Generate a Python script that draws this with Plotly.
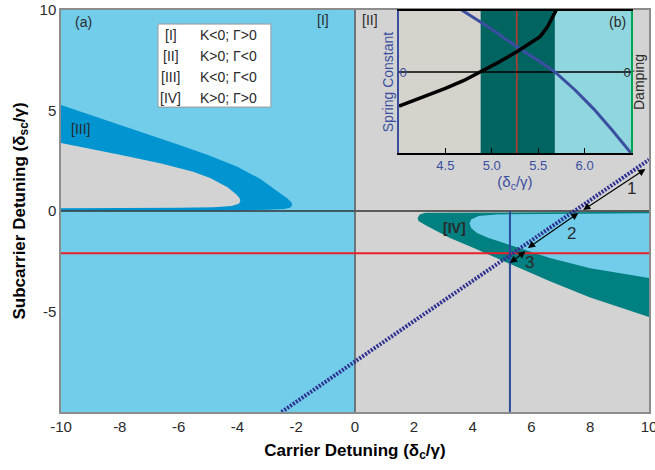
import plotly.graph_objects as go

# ---------------- data ----------------
X_RANGE = [-10, 10]
Y_RANGE = [-10, 10]
x_ticks = [-10, -8, -6, -4, -2, 0, 2, 4, 6, 8, 10]
x_tick_text = ["-10", "-8", "-6", "-4", "-2", "0", "2", "4", "6", "8", "10"]
y_ticks = [10, 5, 0, -5]
y_tick_text = ["10", "5", "0", "-5"]

# region III (K<0, G<0) outer boundary: upper branch then lower branch
III_up_x = [-10, -9, -8, -7, -6.63, -6, -5, -4, -3.23, -2.65, -2.3, -2.16, -2.13]
III_up_y = [5.27, 4.78, 4.3, 3.82, 3.63, 3.3, 2.78, 2.2, 1.6, 1.0, 0.62, 0.42, 0.3]
III_lo_x = [-2.13, -2.2, -2.4, -3.0, -5.0, -10]
III_lo_y = [0.3, 0.17, 0.1, 0.06, 0.03, 0.02]
# grey pocket inside region III
g_up_x = [-10, -9, -8, -6.63, -5.5, -4.93, -4.35, -4.05, -3.93, -3.9]
g_up_y = [3.38, 3.1, 2.8, 2.38, 1.95, 1.64, 1.2, 0.85, 0.65, 0.5]
g_lo_x = [-3.9, -3.95, -4.2, -4.8, -6.0, -10]
g_lo_y = [0.5, 0.36, 0.25, 0.19, 0.16, 0.14]

# region IV (K>0, G>0) outer boundary
IV_lo_x = [2.13, 2.16, 2.45, 3.23, 4.0, 5.27, 6.63, 8.0, 9.0, 10]
IV_lo_y = [-0.35, -0.5, -0.75, -1.34, -1.82, -2.62, -3.5, -4.3, -4.8, -5.27]
IV_up_x = [2.13, 2.2, 2.4, 3.0, 5.0, 10]
IV_up_y = [-0.35, -0.18, -0.09, -0.06, -0.05, -0.04]
# light blue pocket inside region IV
b_lo_x = [3.9, 3.95, 4.15, 4.5, 5.27, 6.63, 8.0, 9.0, 10]
b_lo_y = [-0.62, -0.85, -1.1, -1.32, -1.69, -2.34, -2.85, -3.1, -3.33]
b_up_x = [3.9, 3.95, 4.2, 4.8, 6.0, 10]
b_up_y = [-0.62, -0.42, -0.25, -0.17, -0.13, -0.11]

red_line_y = -2.1
blue_line_x = 5.27
blue_line_y = [-10, 0]
diag_x = [-2.5, 10]
diag_y = [-10, 2.55]

arrow_x0 = [9.93, 7.65, 5.85]
arrow_y0 = [2.14, -0.05, -1.94]
arrow_x1 = [7.76, 5.88, 5.27]
arrow_y1 = [0.05, -1.84, -2.59]
arrow_labels = ["1", "2", "3"]
arrow_label_x = [9.39, 7.37, 5.95]
arrow_label_y = [1.14, -1.11, -2.54]

region_labels = ["[I]", "[II]", "[III]", "<b>[IV]</b>"]
region_label_x = [-1.09, 0.5, -9.35, 3.4]
region_label_y = [9.5, 9.5, 4.1, -0.85]

legend_roman = ["[I]", "[II]", "[III]", "[IV]"]
legend_cond = ["K&lt;0; Γ&gt;0", "K&gt;0; Γ&lt;0", "K&lt;0; Γ&lt;0", "K&gt;0; Γ&gt;0"]
legend_row_y = [8.76, 7.71, 6.67, 5.62]

# inset (b)
inset_x_range = [4.0, 6.5]
inset_y_range = [-1.33, 1.0]
inset_ticks = [4.5, 5.0, 5.5, 6.0]
inset_tick_text = ["4.5", "5.0", "5.5", "6.0"]
inset_edges = [4.0, 4.88, 5.68, 6.5]
inset_colors = ["rgb(214,210,204)", "rgb(0,100,96)", "rgb(144,214,222)"]
inset_red_x = 5.27
spring_x = [4.6, 4.69, 5.0, 5.3, 5.5, 5.68, 5.9, 6.1, 6.3, 6.5]
spring_y = [1.09, 1.0, 0.7, 0.38, 0.19, 0.0, -0.3, -0.61, -0.96, -1.33]
damp_x = [4.0, 4.26, 4.5, 4.7, 4.88, 5.05, 5.27, 5.45, 5.52, 5.6, 5.66, 5.7, 5.73]
damp_y = [-0.56, -0.41, -0.27, -0.14, 0.0, 0.14, 0.33, 0.5, 0.58, 0.74, 0.92, 1.02, 1.12]

# ---------------- colours ----------------
LIGHT_BLUE = "rgb(114,205,234)"
DARK_BLUE = "rgb(0,148,208)"
GREY = "rgb(211,211,211)"
TEAL = "rgb(0,128,128)"
INK = "#2a2a2a"
INSET_BLUE = "#3A4FA0"
FONT = "Liberation Sans, Arial, sans-serif"
TITLE_FONT = "Liberation Sans Narrow, Liberation Sans, Arial"

fig = go.Figure()

def poly(xs, ys, color, xa="x", ya="y"):
    fig.add_trace(go.Scatter(x=xs, y=ys, fill="toself", fillcolor=color, mode="lines",
                             line=dict(width=0, color=color), xaxis=xa, yaxis=ya,
                             hoverinfo="skip", showlegend=False))

# left half light blue
poly([X_RANGE[0], 0, 0, X_RANGE[0]], [Y_RANGE[0], Y_RANGE[0], Y_RANGE[1], Y_RANGE[1]], LIGHT_BLUE)
# region III band and grey pocket
poly(III_up_x + III_lo_x, III_up_y + III_lo_y, DARK_BLUE)
poly(g_up_x + g_lo_x, g_up_y + g_lo_y, GREY)
# region IV band and light-blue pocket
poly(IV_lo_x + IV_up_x[::-1], IV_lo_y + IV_up_y[::-1], TEAL)
poly(b_lo_x + b_up_x[::-1], b_lo_y + b_up_y[::-1], LIGHT_BLUE)

def line(xs, ys, color, width, dash="solid"):
    fig.add_trace(go.Scatter(x=xs, y=ys, mode="lines", line=dict(color=color, width=width, dash=dash),
                             hoverinfo="skip", showlegend=False))

line(X_RANGE, [0, 0], "#333333", 1.5)
line([0, 0], Y_RANGE, "#5a5a5a", 1.5)
line(X_RANGE, [red_line_y, red_line_y], "#E8202A", 2)
line([blue_line_x, blue_line_x], blue_line_y, "#2B4C9B", 2)
line(diag_x, diag_y, "#2E3192", 4, dash="2px,1.5px")

# ---------------- inset ----------------
for i, c in enumerate(inset_colors):
    poly([inset_edges[i], inset_edges[i + 1], inset_edges[i + 1], inset_edges[i]],
         [inset_y_range[0], inset_y_range[0], inset_y_range[1], inset_y_range[1]], c, "x2", "y2")
fig.add_trace(go.Scatter(x=[inset_red_x, inset_red_x], y=inset_y_range, mode="lines",
                         line=dict(color="#C0392B", width=1.5), xaxis="x2", yaxis="y2",
                         hoverinfo="skip", showlegend=False))
fig.add_trace(go.Scatter(x=inset_x_range, y=[0, 0], mode="lines",
                         line=dict(color="black", width=1.5), xaxis="x2", yaxis="y2",
                         hoverinfo="skip", showlegend=False))
fig.add_trace(go.Scatter(x=spring_x, y=spring_y, mode="lines",
                         line=dict(color=INSET_BLUE, width=3), xaxis="x2", yaxis="y2",
                         hoverinfo="skip", showlegend=False))
fig.add_trace(go.Scatter(x=damp_x, y=damp_y, mode="lines",
                         line=dict(color="black", width=3.5), xaxis="x2", yaxis="y3",
                         hoverinfo="skip", showlegend=False))

# ---------------- annotations ----------------
ann = []
for x0, y0, x1, y1 in zip(arrow_x0, arrow_y0, arrow_x1, arrow_y1):
    ann.append(dict(x=x1, y=y1, ax=x0, ay=y0, xref="x", yref="y", axref="x", ayref="y",
                    showarrow=True, arrowhead=2, startarrowhead=2, arrowside="end+start",
                    arrowsize=1.2, startarrowsize=1.2, arrowwidth=1.2, arrowcolor="black", text=""))
for t, x, y in zip(arrow_labels, arrow_label_x, arrow_label_y):
    ann.append(dict(x=x, y=y, xref="x", yref="y", text=t, showarrow=False,
                    font=dict(size=17, color=INK, family=FONT)))
for t, x, y in zip(region_labels, region_label_x, region_label_y):
    ann.append(dict(x=x, y=y, xref="x", yref="y", text=t, showarrow=False,
                    font=dict(size=14, color=INK, family=FONT)))
ann.append(dict(x=-9.25, y=9.4, xref="x", yref="y", text="(a)", showarrow=False,
                font=dict(size=14, color=INK, family=FONT)))
for r, c, y in zip(legend_roman, legend_cond, legend_row_y):
    ann.append(dict(x=-6.26, y=y, xref="x", yref="y", text=r, showarrow=False,
                    font=dict(size=14, color=INK, family=FONT)))
    ann.append(dict(x=-5.34, y=y, xref="x", yref="y", text=c, showarrow=False, xanchor="left",
                    font=dict(size=14, color=INK, family=FONT)))
ann.append(dict(x=0.964, y=0.970, xref="paper", yref="paper", text="(b)", showarrow=False,
                xanchor="right", yanchor="middle", font=dict(size=14, color=INK, family=FONT)))

shapes = [dict(type="rect", xref="x", yref="y", x0=-6.70, x1=-2.86, y0=5.17, y1=9.30,
               fillcolor="white", line=dict(color="#9a9a9a", width=1), layer="above")]

fig.update_layout(
    template="none",
    width=655, height=470,
    margin=dict(l=61, r=6, t=10, b=58, autoexpand=False),
    paper_bgcolor="white", plot_bgcolor=GREY,
    font=dict(family=FONT, color=INK),
    showlegend=False,
    annotations=ann, shapes=shapes,
    xaxis=dict(range=X_RANGE, domain=[0, 1], tickvals=x_ticks, ticktext=x_tick_text, automargin=False,
               ticklabeloverflow="allow",
               showgrid=False, zeroline=False, showline=True, mirror=True, linecolor="#8c8c8c",
               linewidth=1.5, ticks="", tickfont=dict(size=15, color=INK),
               title=dict(text="<b>Carrier Detuning (δ<sub>c</sub>/γ)</b>", standoff=10,
                          font=dict(size=17, family=TITLE_FONT, color="black"))),
    yaxis=dict(range=Y_RANGE, domain=[0, 1], tickvals=y_ticks, ticktext=y_tick_text, automargin=False,
               ticklabeloverflow="allow",
               showgrid=False, zeroline=False, showline=True, mirror=True, linecolor="#8c8c8c",
               linewidth=1.5, ticks="", tickfont=dict(size=15, color=INK),
               title=dict(text="<b>Subcarrier Detuning (δ<sub>sc</sub>/γ)</b>", standoff=10,
                          font=dict(size=17, family=TITLE_FONT, color="black"))),
    xaxis2=dict(domain=[0.5748, 0.9694], anchor="y2", range=inset_x_range, automargin=False,
                tickvals=inset_ticks, ticktext=inset_tick_text, ticks="inside", ticklen=5,
                tickcolor="black", showline=True, linecolor="black", linewidth=1.5, mirror=True,
                showgrid=False, zeroline=False, tickfont=dict(size=13, color=INSET_BLUE),
                title=dict(text="(δ<sub>c</sub>/γ)", standoff=4, font=dict(size=15, color=INSET_BLUE))),
    yaxis2=dict(domain=[0.6443, 0.9975], anchor="x2", range=inset_y_range, automargin=False,
                tickvals=[0], ticktext=["0"], ticks="", ticklabelposition="inside",
                showline=True, linecolor=INSET_BLUE, linewidth=2, showgrid=False, zeroline=False,
                tickfont=dict(size=13, color=INSET_BLUE),
                title=dict(text="Spring Constant", standoff=2, font=dict(size=14, color=INSET_BLUE))),
    yaxis3=dict(overlaying="y2", anchor="x2", side="right", range=inset_y_range, automargin=False,
                tickvals=[0], ticktext=["0"], ticks="", ticklabelposition="inside",
                showline=True, linecolor="#00A651", linewidth=1.5, showgrid=False, zeroline=False,
                tickfont=dict(size=13, color=INK),
                title=dict(text="Damping", standoff=2, font=dict(size=14, color=INK))),
)

fig.write_html("out.html", config={"displayModeBar": False},
               post_script="document.body.style.margin='0px';")
